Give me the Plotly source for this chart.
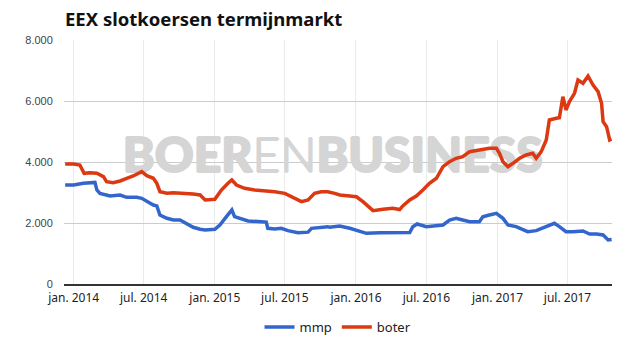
import plotly.graph_objects as go

# ---- data ----
mmp_dates = ["2013-12-10","2014-01-01","2014-01-26","2014-02-21","2014-02-25","2014-03-02","2014-03-10",
             "2014-04-05","2014-05-01","2014-05-18","2014-06-13","2014-06-26","2014-07-09","2014-07-26",
             "2014-08-04","2014-08-12","2014-08-30","2014-09-16","2014-10-03","2014-10-20","2014-11-06",
             "2014-11-24","2014-12-07","2015-01-01","2015-01-14","2015-01-31","2015-02-14","2015-02-21",
             "2015-03-11","2015-03-28","2015-05-01","2015-05-14","2015-05-18","2015-06-05","2015-06-22",
             "2015-07-09","2015-08-04","2015-08-30","2015-09-08","2015-10-03","2015-10-20","2015-10-25",
             "2015-11-20","2015-12-16","2016-01-10","2016-01-28","2016-03-03","2016-03-28","2016-05-01",
             "2016-05-19","2016-05-27","2016-06-07","2016-07-01","2016-07-27","2016-08-13","2016-08-30",
             "2016-09-16","2016-10-03","2016-10-21","2016-11-15","2016-11-24","2016-12-11","2016-12-29",
             "2017-01-15","2017-01-28","2017-02-18","2017-03-20","2017-04-11","2017-05-07","2017-05-28",
             "2017-06-10","2017-06-27","2017-07-15","2017-08-10","2017-08-27","2017-09-14","2017-10-01",
             "2017-10-14","2017-10-23"]
mmp_values = [3246,3250,3300,3335,3330,3082,2973,
              2886,2918,2842,2842,2810,2700,2590,
              2560,2262,2154,2098,2098,1990,1859,
              1794,1771,1794,1935,2207,2426,2207,
              2120,2066,2044,2030,1826,1800,1826,
              1749,1683,1700,1826,1859,1880,1859,
              1902,1826,1716,1662,1683,1690,1690,
              1690,1880,1967,1880,1902,1935,2098,
              2153,2098,2044,2044,2207,2262,2317,
              2153,1935,1880,1716,1749,1880,1990,
              1880,1716,1716,1740,1640,1640,1607,
              1443,1460]

boter_dates = ["2013-12-10","2014-01-01","2014-01-17","2014-01-28","2014-02-12","2014-03-02","2014-03-19",
               "2014-03-27","2014-04-13","2014-05-01","2014-05-18","2014-06-04","2014-06-26","2014-07-09",
               "2014-07-26","2014-08-04","2014-08-12","2014-08-30","2014-09-16","2014-10-20","2014-11-06",
               "2014-11-24","2014-12-07","2015-01-01","2015-01-18","2015-02-04","2015-02-14","2015-02-26",
               "2015-03-19","2015-04-14","2015-05-10","2015-06-05","2015-07-01","2015-07-26","2015-08-13",
               "2015-08-30","2015-09-16","2015-10-03","2015-10-20","2015-11-07","2015-11-20","2015-12-16",
               "2016-01-02","2016-01-19","2016-02-05","2016-02-14","2016-03-11","2016-04-05","2016-04-23",
               "2016-05-01","2016-05-19","2016-06-05","2016-06-22","2016-07-09","2016-07-27","2016-08-13",
               "2016-08-30","2016-09-16","2016-10-03","2016-10-21","2016-11-15","2016-12-11","2016-12-29",
               "2017-01-06","2017-01-15","2017-01-28","2017-02-10","2017-02-27","2017-03-16","2017-04-02",
               "2017-04-11","2017-04-24","2017-05-07","2017-05-15","2017-06-02","2017-06-10","2017-06-19",
               "2017-06-27","2017-07-06","2017-07-19","2017-07-28","2017-08-10","2017-08-23","2017-09-05",
               "2017-09-18","2017-09-27","2017-10-01","2017-10-10","2017-10-18","2017-10-23"]
boter_values = [3935,3935,3902,3630,3650,3630,3520,
                3355,3322,3378,3466,3541,3683,3550,
                3466,3302,3027,2973,2995,2980,2951,
                2918,2754,2776,3082,3302,3410,3246,
                3137,3082,3060,3027,2973,2810,2700,
                2754,2973,3027,3027,2973,2918,2886,
                2860,2700,2514,2405,2449,2482,2440,
                2558,2754,2886,3082,3302,3466,3847,
                4011,4121,4175,4339,4394,4449,4449,
                4285,4011,3847,3957,4121,4230,4285,
                4121,4339,4722,5378,5432,5450,6142,
                5706,5979,6252,6689,6580,6820,6525,
                6306,5925,5322,5158,4722,4750]

tick_dates = ["2014-01-01","2014-07-01","2015-01-01","2015-07-01",
              "2016-01-01","2016-07-01","2017-01-01","2017-07-01"]
tick_labels = ["jan. 2014","jul. 2014","jan. 2015","jul. 2015",
               "jan. 2016","jul. 2016","jan. 2017","jul. 2017"]

wm = "#d5d5d5"

fig = go.Figure()

# watermark (below the lines)
fig.add_trace(go.Scatter(
    x=["2015-11-02"], y=[4066], mode="text",
    text=['BOER<span style="font-weight:300">EN</span>BUSINESS'],
    textfont=dict(family="Lato", size=48, weight=900, color=wm,
                  shadow=f"1px 0 0 {wm}, -1px 0 0 {wm}, 0 1px 0 {wm}, 0 -1px 0 {wm}"),
    hoverinfo="skip", showlegend=False))

fig.add_trace(go.Scatter(x=mmp_dates, y=mmp_values, name="mmp", mode="lines",
                         line=dict(color="#3366cc", width=3.5)))
fig.add_trace(go.Scatter(x=boter_dates, y=boter_values, name="boter", mode="lines",
                         line=dict(color="#dc3912", width=3.5)))

fig.update_layout(
    width=625, height=355,
    margin=dict(l=64, r=13, t=40, b=71),
    paper_bgcolor="white", plot_bgcolor="white",
    separators=",.",
    title=dict(text="<b>EEX slotkoersen termijnmarkt</b>",
               font=dict(family="Noto Sans", size=18.5, color="#111111"),
               x=65/625, xanchor="left", xref="container",
               y=1-20/355, yanchor="middle", yref="container"),
    legend=dict(orientation="h", x=0.5, xanchor="center", y=-0.176, yanchor="middle",
                font=dict(family="Noto Sans", size=13, color="#222222"),
                itemwidth=30),
    showlegend=True,
)

fig.update_xaxes(
    type="date", range=["2013-12-07", "2017-10-24"],
    tickvals=tick_dates, ticktext=tick_labels,
    showgrid=True, gridcolor="#ebebeb", gridwidth=1,
    showline=True, linecolor="#333333", linewidth=1.5,
    ticks="outside", ticklen=2, tickcolor="rgba(0,0,0,0)",
    tickfont=dict(family="Noto Sans", size=12, color="#222222"),
    zeroline=False,
)
fig.update_yaxes(
    range=[0, 8000], dtick=2000, tick0=0, tickformat=",d",
    showgrid=True, gridcolor="#cccccc", gridwidth=1,
    zeroline=False, showline=False,
    ticks="outside", ticklen=8, tickcolor="rgba(0,0,0,0)",
    tickfont=dict(family="Liberation Sans", size=11, color="#444444"),
)

fig.write_html("out.html")
